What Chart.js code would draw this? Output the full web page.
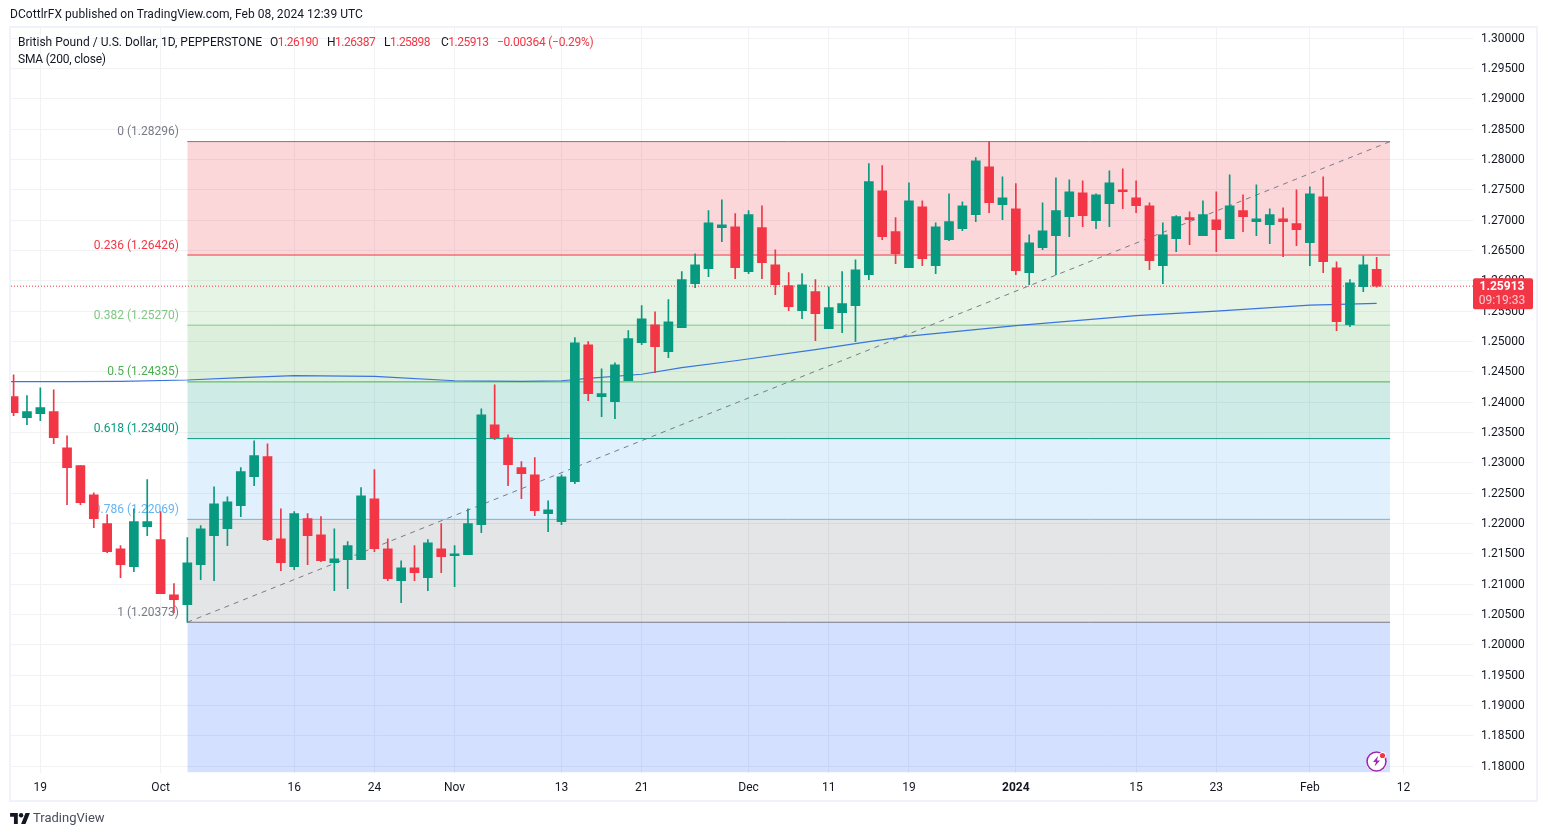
<!DOCTYPE html>
<html>
<head>
<meta charset="utf-8">
<title>GBPUSD 1D</title>
<script src="https://cdn.jsdelivr.net/npm/chart.js@4"></script>
<style>
    html, body { margin: 0; padding: 0; background: #fff; width: 1547px; height: 836px; overflow: hidden; }
    body { font-family: Roboto, sans-serif; font-size: 12px; color: #131722; }
    canvas { position: absolute; left: 0; top: 0; }
    .frame { position: absolute; left: 9px; top: 26px; width: 1529px; height: 776px; box-sizing: border-box; border: 2px solid #f0f3fa; }
    .txt { position: absolute; white-space: nowrap; line-height: 14px; }
    .val { letter-spacing: -0.5px; }
    .red { color: #f23645; }
    .icon { position: absolute; }
</style>
</head>
<body>
<div class="frame"></div>
<canvas id="chart" width="1547" height="836"></canvas>

<div class="txt" style="left:10px;top:7px;letter-spacing:0.05px">DCottlrFX published on TradingView.com, Feb 08, 2024 12:39 UTC</div>
<div class="txt" style="left:18px;top:35px;letter-spacing:0.02px">British Pound / U.S. Dollar, 1D, PEPPERSTONE</div>
<div class="txt val" style="left:270px;top:35px">O<span class="red">1.26190</span></div>
<div class="txt val" style="left:327px;top:35px">H<span class="red">1.26387</span></div>
<div class="txt val" style="left:384px;top:35px">L<span class="red">1.25898</span></div>
<div class="txt val" style="left:441px;top:35px">C<span class="red">1.25913</span></div>
<div class="txt red" style="left:497px;top:35px;letter-spacing:-0.25px">−0.00364 (−0.29%)</div>
<div class="txt" style="left:18px;top:52px;letter-spacing:-0.2px">SMA (200, close)</div>

<svg class="icon" style="left:10px;top:813px" width="20" height="11" viewBox="0 0 36 20">
    <path d="M14 20H7V7H0V0h14v20z" fill="#131722"/>
    <circle cx="20" cy="4" r="4" fill="#131722"/>
    <path d="M28 20h-8l8-20h8l-8 20z" fill="#131722"/>
</svg>
<div class="txt" style="left:33px;top:811px;font-size:13px;color:#4a4e5a">TradingView</div>

<svg class="icon" style="left:1365px;top:749px" width="24" height="24" viewBox="0 0 24 24">
    <circle cx="11.5" cy="12.5" r="10.5" fill="#fff"/>
    <circle cx="11.5" cy="12.5" r="9.5" fill="none" stroke="#9c27b0" stroke-width="1.6"/>
    <path d="M13 7l-5 6h3l-1.5 4.5 5.5-6h-3z" fill="#9c27b0"/>
    <circle cx="17.5" cy="6.5" r="3.6" fill="#fff"/>
    <circle cx="17.5" cy="6.5" r="2.6" fill="#f23645"/>
</svg>

<script>
    // daily candles, 19 Sep 2023 onward
    const opens = [1.24091, 1.23745, 1.23811, 1.23844, 1.23250, 1.22954, 1.22475, 1.21998, 1.21585, 1.21288,
        1.21948, 1.21734, 1.20827, 1.20662, 1.21321, 1.21800, 1.21915, 1.22294, 1.22772, 1.23102,
        1.21750, 1.21288, 1.22080, 1.21816, 1.21354, 1.21404, 1.21404, 1.22409, 1.21585, 1.21058,
        1.21272, 1.21108, 1.21585, 1.21470, 1.21486, 1.21981, 1.23629, 1.23415, 1.22921, 1.22805,
        1.22163, 1.22031, 1.22690, 1.24948, 1.24091, 1.24009, 1.24354, 1.24981, 1.25277, 1.24833,
        1.25228, 1.25954, 1.26200, 1.26877, 1.26893, 1.26152, 1.26877, 1.26266, 1.25921, 1.25508,
        1.25822, 1.25212, 1.25475, 1.25591, 1.26102, 1.27486, 1.26811, 1.26217, 1.27222, 1.26250,
        1.26679, 1.26860, 1.27091, 1.27882, 1.27255, 1.27189, 1.26135, 1.26547, 1.26745, 1.27058,
        1.27453, 1.26992, 1.27272, 1.27503, 1.27371, 1.27239, 1.26250, 1.26695, 1.27042, 1.26745,
        1.27008, 1.26695, 1.27157, 1.26976, 1.26926, 1.27025, 1.26943, 1.26629, 1.27387, 1.26217,
        1.25277, 1.25904, 1.26190];
    const highs = [1.24453, 1.24108, 1.24239, 1.24206, 1.23448, 1.22954, 1.22508, 1.22146, 1.21635, 1.22244,
        1.22723, 1.22196, 1.21009, 1.21767, 1.21965, 1.22607, 1.22442, 1.22921, 1.23365, 1.23316,
        1.22244, 1.22196, 1.22163, 1.22113, 1.21915, 1.21701, 1.22591, 1.22888, 1.21750, 1.21387,
        1.21635, 1.21734, 1.21998, 1.21635, 1.22244, 1.23893, 1.24288, 1.23464, 1.23020, 1.23086,
        1.22376, 1.22805, 1.25064, 1.24998, 1.24552, 1.24651, 1.25179, 1.25591, 1.25492, 1.25690,
        1.26152, 1.26448, 1.27157, 1.27338, 1.27108, 1.27157, 1.27239, 1.26513, 1.26135, 1.26119,
        1.26020, 1.25904, 1.26152, 1.26349, 1.27932, 1.27899, 1.27042, 1.27618, 1.27321, 1.26959,
        1.27437, 1.27305, 1.28031, 1.28296, 1.27717, 1.27602, 1.26761, 1.27288, 1.27700, 1.27667,
        1.27651, 1.27437, 1.27816, 1.27849, 1.27651, 1.27288, 1.26959, 1.27075, 1.27140, 1.27321,
        1.27470, 1.27750, 1.27420, 1.27585, 1.27189, 1.27206, 1.27503, 1.27552, 1.27717, 1.26316,
        1.26020, 1.26415, 1.26387];
    const lows = [1.23778, 1.23629, 1.23695, 1.23316, 1.22310, 1.22310, 1.21932, 1.21519, 1.21108, 1.21207,
        1.21800, 1.20844, 1.20530, 1.20373, 1.21075, 1.21058, 1.21635, 1.22113, 1.22624, 1.21717,
        1.21223, 1.21239, 1.21321, 1.21371, 1.20893, 1.20926, 1.21404, 1.21536, 1.21058, 1.20695,
        1.21058, 1.20893, 1.21190, 1.20959, 1.21486, 1.21849, 1.23382, 1.22624, 1.22409, 1.22130,
        1.21866, 1.21981, 1.22657, 1.24025, 1.23761, 1.23728, 1.24354, 1.24948, 1.24486, 1.24734,
        1.25228, 1.25888, 1.26069, 1.26646, 1.26036, 1.26119, 1.26036, 1.25772, 1.25508, 1.25376,
        1.25014, 1.25212, 1.25146, 1.24998, 1.26020, 1.26679, 1.26283, 1.26217, 1.26250, 1.26119,
        1.26662, 1.26827, 1.26976, 1.27124, 1.27008, 1.26102, 1.25937, 1.26513, 1.26102, 1.26728,
        1.26893, 1.26860, 1.26893, 1.27189, 1.27124, 1.26184, 1.25954, 1.26481, 1.26596, 1.26745,
        1.26481, 1.26695, 1.26811, 1.26745, 1.26613, 1.26398, 1.26580, 1.26250, 1.26135, 1.25179,
        1.25244, 1.25822, 1.25898];
    const closes = [1.23827, 1.23844, 1.23910, 1.23415, 1.22921, 1.22343, 1.22080, 1.21536, 1.21321, 1.22031,
        1.22031, 1.20844, 1.20745, 1.21354, 1.21915, 1.22327, 1.22360, 1.22855, 1.23119, 1.21734,
        1.21354, 1.22163, 1.21800, 1.21387, 1.21420, 1.21635, 1.22459, 1.21585, 1.21091, 1.21272,
        1.21190, 1.21684, 1.21453, 1.21503, 1.21998, 1.23794, 1.23415, 1.22970, 1.22822, 1.22212,
        1.22228, 1.22772, 1.24981, 1.24141, 1.24141, 1.24618, 1.25047, 1.25376, 1.24915, 1.25327,
        1.26020, 1.26266, 1.26959, 1.26926, 1.26217, 1.27091, 1.26299, 1.25937, 1.25574, 1.25937,
        1.25459, 1.25558, 1.25624, 1.26184, 1.27635, 1.26728, 1.26448, 1.27321, 1.26365, 1.26893,
        1.26976, 1.27239, 1.27981, 1.27288, 1.27371, 1.26168, 1.26629, 1.26827, 1.27157, 1.27470,
        1.27075, 1.27420, 1.27618, 1.27470, 1.27239, 1.26332, 1.26761, 1.27058, 1.27008, 1.27091,
        1.26844, 1.27239, 1.27058, 1.27025, 1.27091, 1.26976, 1.26844, 1.27437, 1.26316, 1.25327,
        1.25970, 1.26266, 1.25913];

    // 200 day average, read at a few candles
    const smaIndex = [-1, 0, 4, 8, 13, 17, 21, 27, 33, 38, 41, 43, 47, 50, 54, 60, 64, 67, 75, 84, 90, 97, 102];
    const smaValues = [1.24341, 1.24341, 1.24338, 1.24343, 1.24366, 1.24404, 1.24437, 1.24425, 1.24354, 1.24343,
        1.24354, 1.24392, 1.24461, 1.24569, 1.24684, 1.24866, 1.24998, 1.25088, 1.25261, 1.25426, 1.25503, 1.25602, 1.25629];

    const fibRatios = ['0', '0.236', '0.382', '0.5', '0.618', '0.786', '1', '1.618'];
    const fibLevels = [1.28296, 1.26426, 1.25270, 1.24335, 1.23400, 1.22069, 1.20373, 1.15477];
    const fibColors = ['#787b86', '#f23645', '#81c784', '#4caf50', '#089981', '#64b5f6', '#787b86', '#2962ff'];
    const fibFills = ['#f23645', '#81c784', '#4caf50', '#089981', '#64b5f6', '#787b86', '#2962ff'];
    const fibStart = 13;
    const fibEnd = 103;

    const timeTicks = [2, 11, 21, 27, 33, 41, 47, 55, 61, 67, 75, 84, 90, 97, 104];
    const timeLabels = ['19', 'Oct', '16', '24', 'Nov', '13', '21', 'Dec', '11', '19', '2024', '15', '23', 'Feb', '12'];
    const priceTicks = [1.18, 1.185, 1.19, 1.195, 1.20, 1.205, 1.21, 1.215, 1.22, 1.225, 1.23, 1.235, 1.24, 1.245,
        1.25, 1.255, 1.26, 1.265, 1.27, 1.275, 1.28, 1.285, 1.29, 1.295, 1.30];

    const UP = '#089981';
    const DOWN = '#f23645';
    const GRID = '#f1f2f4';
    const FONT = 'Roboto, sans-serif';

    const xMin = -0.195;
    const xMax = 109.21;
    const yMin = 1.178965;
    const yMax = 1.301685;
    const lastClose = closes[closes.length - 1];

    const candleColors = closes.map((c, i) => c >= opens[i] ? UP : DOWN);

    const fibDatasets = fibLevels.map((level, i) => ({
        type: 'line',
        data: [{x: fibStart, y: level}, {x: fibEnd, y: level}],
        borderColor: fibColors[i],
        borderWidth: 1,
        pointRadius: 0,
        fill: i < fibFills.length ? '+1' : false,
        backgroundColor: i < fibFills.length ? fibFills[i] + '33' : 'transparent',
        order: 10 + i
    }));

    // fib captions sit behind the candles, just above their level
    const fibLabelPlugin = {
        id: 'fibLabels',
        beforeDatasetsDraw: function (chart) {
            const ctx = chart.ctx;
            const x = chart.scales.x.getPixelForValue(fibStart) - 8.5;
            ctx.save();
            ctx.font = '12px ' + FONT;
            ctx.textAlign = 'right';
            ctx.textBaseline = 'middle';
            for (let i = 0; i < fibLevels.length - 1; i++) {
                ctx.fillStyle = fibColors[i];
                let y = chart.scales.y.getPixelForValue(fibLevels[i]) - 9.5;
                ctx.fillText(fibRatios[i] + ' (' + fibLevels[i].toFixed(5) + ')', x, y);
            }
            ctx.restore();
        }
    };

    const priceTagPlugin = {
        id: 'priceTag',
        afterDraw: function (chart) {
            const ctx = chart.ctx;
            const y = chart.scales.y.getPixelForValue(lastClose);
            ctx.save();
            ctx.fillStyle = DOWN;
            ctx.beginPath();
            ctx.roundRect(1473, y - 8, 60, 31, 2);
            ctx.fill();
            ctx.textAlign = 'center';
            ctx.textBaseline = 'middle';
            ctx.fillStyle = '#fff';
            ctx.font = 'bold 12px ' + FONT;
            ctx.fillText(lastClose.toFixed(5), 1502, y + 1);
            ctx.fillStyle = 'rgba(255,255,255,0.75)';
            ctx.font = '12px ' + FONT;
            ctx.fillText('09:19:33', 1502, y + 15);
            ctx.restore();
        }
    };

    new Chart(document.getElementById('chart'), {
        type: 'bar',
        data: {
            datasets: [
                {
                    data: closes.map((c, i) => ({x: i, y: [opens[i], c]})),
                    backgroundColor: candleColors,
                    barThickness: 9,
                    grouped: false,
                    order: 0
                },
                {
                    data: highs.map((h, i) => ({x: i, y: [lows[i], h]})),
                    backgroundColor: candleColors,
                    barThickness: 1,
                    grouped: false,
                    order: 1
                },
                {
                    type: 'line',
                    data: smaIndex.map((x, i) => ({x: x, y: smaValues[i]})),
                    borderColor: '#3a74e0',
                    borderWidth: 1.2,
                    pointRadius: 0,
                    order: 2
                },
                {
                    type: 'line',
                    data: [{x: xMin, y: lastClose}, {x: xMax, y: lastClose}],
                    borderColor: DOWN,
                    borderWidth: 1,
                    borderDash: [1, 2],
                    pointRadius: 0,
                    order: 3
                },
                {
                    type: 'line',
                    data: [{x: fibStart, y: fibLevels[6]}, {x: fibEnd, y: fibLevels[0]}],
                    borderColor: '#787b86',
                    borderWidth: 1,
                    borderDash: [5, 5],
                    pointRadius: 0,
                    order: 4
                }
            ].concat(fibDatasets)
        },
        options: {
            responsive: false,
            devicePixelRatio: 1,
            animation: false,
            events: [],
            layout: {padding: {left: 11, top: 28, right: 10, bottom: 35.5}},
            plugins: {legend: {display: false}, tooltip: {enabled: false}},
            scales: {
                x: {
                    type: 'linear',
                    min: xMin,
                    max: xMax,
                    offset: false,
                    afterBuildTicks: function (scale) {
                        scale.ticks = timeTicks.map(v => ({value: v}));
                    },
                    afterFit: function (scale) {
                        scale.height = 28;
                    },
                    grid: {color: GRID, offset: false, drawTicks: false},
                    border: {display: false},
                    ticks: {
                        autoSkip: false,
                        maxRotation: 0,
                        padding: 8.5,
                        color: '#131722',
                        font: function (ctx) {
                            let bold = ctx.tick && timeLabels[timeTicks.indexOf(ctx.tick.value)] === '2024';
                            return {family: FONT, size: 12, weight: bold ? 'bold' : 'normal'};
                        },
                        callback: function (value) {
                            return timeLabels[timeTicks.indexOf(value)];
                        }
                    }
                },
                y: {
                    position: 'right',
                    min: yMin,
                    max: yMax,
                    afterBuildTicks: function (scale) {
                        scale.ticks = priceTicks.map(v => ({value: v}));
                    },
                    afterFit: function (scale) {
                        scale.width = 64;
                    },
                    grid: {color: GRID, drawTicks: false},
                    border: {display: false},
                    ticks: {
                        autoSkip: false,
                        padding: 8,
                        labelOffset: 0.5,
                        color: '#131722',
                        font: {family: FONT, size: 12},
                        callback: function (value) {
                            return value.toFixed(5);
                        }
                    }
                }
            }
        },
        plugins: [fibLabelPlugin, priceTagPlugin]
    });
</script>
</body>
</html>
